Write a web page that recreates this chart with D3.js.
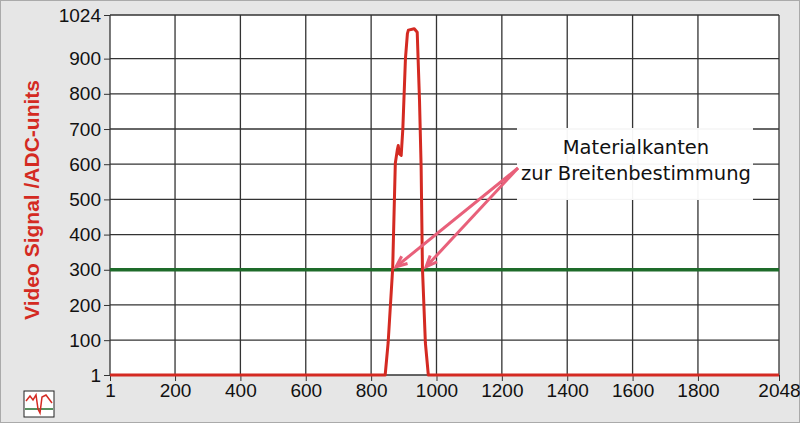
<!DOCTYPE html>
<html><head><meta charset="utf-8">
<script src="https://cdn.jsdelivr.net/npm/d3@7"></script>
<style>body{margin:0;background:#e6e6e6}</style>
</head><body>
<svg id="c" width="800" height="423"></svg>
<script>
// signal trace (pixel index, ADC value)
var pixels = [1, 843, 852, 866, 874, 880, 883, 886, 892, 897, 905, 911, 914, 932, 941, 948, 953, 957, 966, 975, 2048];
var signal = [1, 1, 92, 305, 603, 640, 653, 630, 625, 700, 900, 971, 981, 985, 975, 782, 592, 305, 92, 1, 1];
var xTicks = [1, 200, 400, 600, 800, 1000, 1200, 1400, 1600, 1800, 2048];
var yTicks = [1, 100, 200, 300, 400, 500, 600, 700, 800, 900, 1024];
var threshold = 300;
var noteLines = ["Materialkanten", "zur Breitenbestimmung"];
var edges = [870, 962];

var svg = d3.select("#c");
var x = d3.scaleLinear().domain([1, 2048]).range([110, 779]);
var y = d3.scaleLinear().domain([1, 1024]).range([375, 15]);

svg.append("rect").attr("x",0.5).attr("y",0.5).attr("width",799).attr("height",422)
   .attr("fill","#e6e6e6").attr("stroke","#aaa");
svg.append("rect").attr("x",110).attr("y",15).attr("width",669).attr("height",360).attr("fill","#fff");

//grid
svg.append("g").selectAll("line").data(xTicks).join("line")
   .attr("x1",d=>x(d)).attr("x2",d=>x(d)).attr("y1",15).attr("y2",375)
   .attr("stroke","#333").attr("stroke-width",1.3);
svg.append("g").selectAll("line").data(yTicks).join("line")
   .attr("x1",110).attr("x2",779).attr("y1",d=>y(d)).attr("y2",d=>y(d))
   .attr("stroke","#333").attr("stroke-width",1.3);

//axes
var xa = svg.append("g").attr("transform","translate(0,375)")
   .call(d3.axisBottom(x).tickValues(xTicks).tickFormat(d3.format("d")).tickSize(6).tickPadding(3));
var ya = svg.append("g").attr("transform","translate(110,0)")
   .call(d3.axisLeft(y).tickValues(yTicks).tickFormat(d3.format("d")).tickSize(6).tickPadding(3));
[xa, ya].forEach(function(a){
  a.select(".domain").remove();
  a.selectAll("text").attr("font-family","Liberation Sans, Arial").attr("font-size",19).attr("fill","#111");
  a.selectAll(".tick line").attr("stroke","#333");
});

//threshold
svg.append("line").attr("x1",110).attr("x2",779).attr("y1",y(threshold)).attr("y2",y(threshold))
   .attr("stroke","#1e6b2a").attr("stroke-width",3.5);

//signal
svg.append("path").datum(d3.zip(pixels, signal))
   .attr("d", d3.line().x(d=>x(d[0])).y(d=>y(d[1])))
   .attr("fill","none").attr("stroke","#d42a22").attr("stroke-width",3).attr("stroke-linejoin","round");

//annotation
svg.append("rect").attr("x",517).attr("y",128).attr("width",236).attr("height",72).attr("fill","#fff").attr("opacity",0.95);
svg.append("g").selectAll("text").data(noteLines).join("text")
   .attr("x",636).attr("y",(d,i)=>154+i*26).attr("text-anchor","middle")
   .attr("font-family","DejaVu Sans").attr("font-size",19.5).attr("fill","#111").text(d=>d);
var ox = 518, oy = 168;
edges.forEach(function(e){
  var tx = x(e) + 2, ty = y(threshold) - 3;
  var ang = Math.atan2(ty-oy, tx-ox), L = 12;
  svg.append("line").attr("x1",ox).attr("y1",oy).attr("x2",tx).attr("y2",ty)
     .attr("stroke","#e8607a").attr("stroke-width",3);
  svg.append("path").attr("d", d3.line()([
     [tx - L*Math.cos(ang-0.4), ty - L*Math.sin(ang-0.4)], [tx,ty],
     [tx - L*Math.cos(ang+0.4), ty - L*Math.sin(ang+0.4)]]))
     .attr("fill","none").attr("stroke","#e8607a").attr("stroke-width",3);
});

//y label
svg.append("text").attr("transform","translate(39,200) rotate(-90)").attr("text-anchor","middle")
   .attr("font-family","Liberation Sans, Arial").attr("font-weight","bold").attr("font-size",21)
   .attr("fill","#d42a22").text("Video Signal /ADC-units");

//icon
var ic = svg.append("g").attr("transform","translate(24,391)");
ic.append("rect").attr("width",30).attr("height",26).attr("fill","#fff").attr("stroke","#222");
ic.append("line").attr("x1",1).attr("x2",29).attr("y1",18).attr("y2",18).attr("stroke","#1e6b2a").attr("stroke-width",1.5);
ic.append("path").attr("d","M2,10 L6,5 L9,9 L12,4 L14,18 L16,22 L18,6 L22,4 L25,8 L28,12")
  .attr("fill","none").attr("stroke","#d42a22").attr("stroke-width",1.5);
</script>
</body></html>
